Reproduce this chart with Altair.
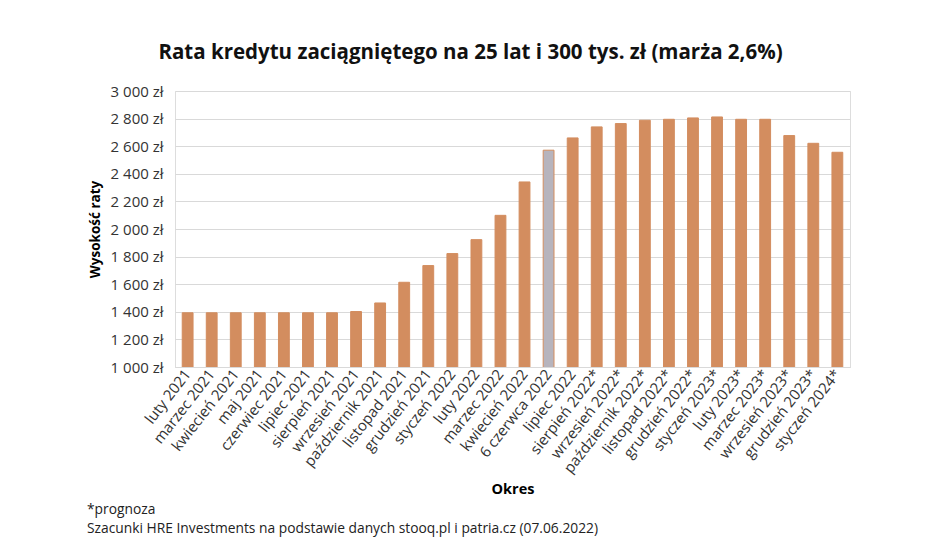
import altair as alt
import pandas as pd

months = ["luty 2021", "marzec 2021", "kwiecień 2021", "maj 2021", "czerwiec 2021",
          "lipiec 2021", "sierpień 2021", "wrzesień 2021", "październik 2021",
          "listopad 2021", "grudzień 2021", "styczeń 2022", "luty 2022", "marzec 2022",
          "kwiecień 2022", "6 czerwca 2022", "lipiec 2022", "sierpień 2022*",
          "wrzesień 2022*", "październik 2022*", "listopad 2022*", "grudzień 2022*",
          "styczeń 2023*", "luty 2023*", "marzec 2023*", "wrzesień 2023*",
          "grudzień 2023*", "styczeń 2024*"]
values = [1393, 1393, 1393, 1393, 1393, 1393, 1393, 1402, 1464, 1614, 1735, 1822,
          1923, 2099, 2341, 2571, 2660, 2740, 2764, 2788, 2795, 2805, 2812, 2795,
          2795, 2677, 2621, 2556]
kinds = ["hist"] * 15 + ["current"] + ["hist"] * 12

df = pd.DataFrame({"Okres": months, "Rata": values, "kind": kinds})

FONT = "Open Sans"

bars = alt.Chart(df).mark_bar(strokeWidth=1, clip=True).encode(
    x=alt.X("Okres:N", sort=months, title="Okres",
            scale=alt.Scale(paddingInner=0.55, paddingOuter=0.3),
            axis=alt.Axis(labelAngle=-52, labelAlign="right", labelBaseline="middle",
                          labelFont=FONT, labelFontSize=15, labelColor="#333333",
                          labelPadding=4, ticks=False, domain=True,
                          domainColor="#D9D9D9", titleFont=FONT, titleFontSize=14.5,
                          titleFontWeight="bold", titleColor="#000000",
                          titlePadding=7, labelOverlap=False)),
    y=alt.Y("Rata:Q", title="Wysokość raty",
            scale=alt.Scale(domain=[1000, 3000]),
            axis=alt.Axis(values=list(range(1000, 3001, 200)),
                          labelExpr="replace(format(datum.value, ','), ',', ' ') + ' zł'",
                          labelFont=FONT, labelFontSize=15, labelColor="#333333",
                          labelPadding=12, ticks=False, domain=False,
                          gridColor="#D9D9D9", titleFont=FONT, titleFontSize=13.5,
                          titleFontWeight="bold", titleColor="#000000",
                          titlePadding=8)),
    color=alt.Color("kind:N", scale=alt.Scale(domain=["hist", "current"],
                                              range=["#D38D5F", "#B7B4BD"]), legend=None),
    stroke=alt.value("#D38D5F"),
)

notes = pd.DataFrame({"t": ["*prognoza",
                            "Szacunki HRE Investments na podstawie danych stooq.pl i patria.cz (07.06.2022)"],
                      "row": [0, 1]})
note1 = alt.Chart(notes[notes.row == 0]).mark_text(
    align="left", baseline="middle", font=FONT, fontSize=13.8, color="#222222"
).encode(text="t:N", x=alt.value(-88), y=alt.value(419))
note2 = alt.Chart(notes[notes.row == 1]).mark_text(
    align="left", baseline="middle", font=FONT, fontSize=13.8, color="#222222"
).encode(text="t:N", x=alt.value(-88), y=alt.value(438))

chart = alt.layer(bars, note1, note2).properties(
    width=675, height=276,
    title=alt.TitleParams("Rata kredytu zaciągniętego na 25 lat i 300 tys. zł (marża 2,6%)",
                          font=FONT, fontSize=20.5, fontWeight="bold", color="#111111",
                          anchor="middle", dx=-42, offset=21),
    padding={"left": 175, "top": 91, "right": 85, "bottom": 184},
    autosize=alt.AutoSizeParams(type="none"),
).configure_view(stroke=None).configure(background="white")

chart.save("out.html", embed_options={"renderer": "svg", "actions": False})
